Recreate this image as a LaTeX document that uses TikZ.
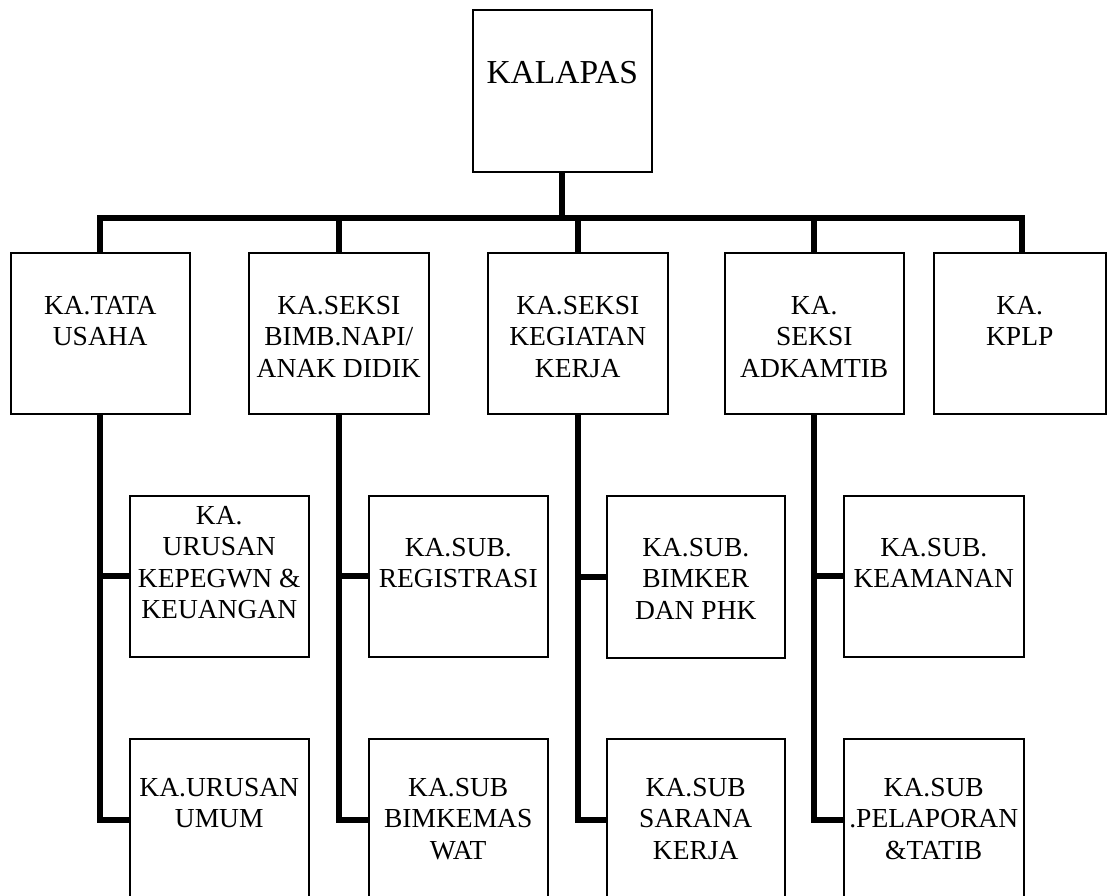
\documentclass[tikz,border=0pt]{standalone}
\usepackage{fontspec}
\setmainfont{Liberation Serif}
\begin{document}
\begin{tikzpicture}[x=1pt,y=-1pt,
  box/.style={draw, line width=1.5pt, anchor=north west, inner sep=0pt, minimum width=179pt, minimum height=161pt},
  txt/.style={anchor=north, inner sep=0pt, align=center, font=\fontsize{27.5}{31.5}\selectfont},
  conn/.style={line width=6pt, line join=miter}]
\clip (0,0) rectangle (1109,895);
\fill[white] (0,0) rectangle (1109,895);
% top
\node[box, minimum height=162pt] (k) at (472,9) {};
\node[anchor=north, inner sep=0pt, font=\fontsize{33.5}{38}\selectfont] (kt) at ([yshift=-52pt]k.north) {KALAPAS};
% row 1
\node[box] (b1) at (10,252) {};
\node[box, minimum width=180pt] (b2) at (248,252) {};
\node[box, minimum width=180pt] (b3) at (487,252) {};
\node[box] (b4) at (724,252) {};
\node[box, minimum width=172pt] (b5) at (933,252) {};
\node[txt] (b1t) at ([yshift=-44pt]b1.north) {KA.TATA\\USAHA};
\node[txt] (b2t) at ([yshift=-44pt]b2.north) {KA.SEKSI\\BIMB.NAPI/\\ANAK DIDIK};
\node[txt] (b3t) at ([yshift=-44pt]b3.north) {KA.SEKSI\\KEGIATAN\\KERJA};
\node[txt] (b4t) at ([yshift=-44pt]b4.north) {KA.\\SEKSI\\ADKAMTIB};
\node[txt] (b5t) at ([yshift=-44pt]b5.north) {KA.\\KPLP};
% row 2
\node[box] (s1) at (129,495) {};
\node[box] (s2) at (368,495) {};
\node[box, minimum width=178pt, minimum height=162pt] (s3) at (606,495) {};
\node[box, minimum width=180pt] (s4) at (843,495) {};
\node[txt] (s1t) at ([yshift=-11pt]s1.north) {KA.\\URUSAN\\KEPEGWN \&\\KEUANGAN};
\node[txt] (s2t) at ([yshift=-43pt]s2.north) {KA.SUB.\\REGISTRASI};
\node[txt] (s3t) at ([yshift=-43pt]s3.north) {KA.SUB.\\BIMKER\\DAN PHK};
\node[txt] (s4t) at ([yshift=-43pt]s4.north) {KA.SUB.\\KEAMANAN};
% row 3
\node[box, minimum height=162pt] (t1) at (129,738) {};
\node[box, minimum height=162pt] (t2) at (368,738) {};
\node[box, minimum width=178pt, minimum height=162pt] (t3) at (606,738) {};
\node[box, minimum width=180pt, minimum height=162pt] (t4) at (843,738) {};
\node[txt] (t1t) at ([yshift=-40pt]t1.north) {KA.URUSAN\\UMUM};
\node[txt] (t2t) at ([yshift=-40pt]t2.north) {KA.SUB\\BIMKEMAS\\WAT};
\node[txt] (t3t) at ([yshift=-40pt]t3.north) {KA.SUB\\SARANA\\KERJA};
\node[txt] (t4t) at ([yshift=-40pt]t4.north) {KA.SUB\\.PELAPORAN\\\&TATIB};
% connectors
\coordinate (bar) at (0,218);
\coordinate (b5c) at (1022,252);
\draw[conn] (k.south) -- (k.south |- bar);
\draw[conn] (b1.north) -- (b1.north |- bar) -- (b5c |- bar) -- (b5c);
\draw[conn] (b2.north) -- (b2.north |- bar);
\draw[conn] (b3.north) -- (b3.north |- bar);
\draw[conn] (b4.north) -- (b4.north |- bar);
\foreach \b/\s/\t in {b1/s1/t1, b2/s2/t2, b3/s3/t3, b4/s4/t4}{
  \draw[conn] (\b.south) |- (\t.west);
  \draw[conn] (\b.south |- \s.west) -- (\s.west);
}
\end{tikzpicture}
\end{document}
